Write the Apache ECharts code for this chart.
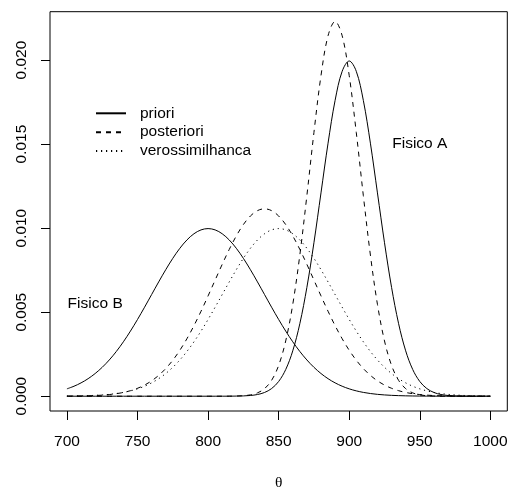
<!DOCTYPE html>
<html>
<head>
<meta charset="utf-8">
<script src="https://cdn.jsdelivr.net/npm/echarts@6/dist/echarts.min.js"></script>
<style>html,body{margin:0;padding:0;background:#fff}#c{width:509px;height:491px}</style>
</head>
<body>
<div id="c"></div>
<script>
var theta = [700,705,710,715,720,725,730,735,740,745,
  750,755,760,765,770,775,780,785,790,795,
  800,805,810,815,820,825,830,835,840,845,
  850,855,860,865,870,875,880,885,890,895,
  900,905,910,915,920,925,930,935,940,945,
  950,955,960,965,970,975,980,985,990,995,
  1000];

var prioriA = [0,0,0,0,0,0,0,0,0,0,
  0,0,0,0,0,0,0,0,0,0,
  0,0,0.000001,0.000002,0.000007,0.000018,0.000044,0.000101,0.000222,0.000455,
  0.000876,0.001587,0.002700,0.004314,0.006476,0.009132,0.012098,0.015057,0.017603,0.019333,
  0.019947,0.019333,0.017603,0.015057,0.012098,0.009132,0.006476,0.004314,0.002700,0.001587,
  0.000876,0.000455,0.000222,0.000101,0.000044,0.000018,0.000007,0.000002,0.000001,0,
  0];

var prioriB = [0.000438,0.000594,0.000794,0.001043,0.001350,0.001720,0.002157,0.002663,0.003238,0.003875,
  0.004566,0.005297,0.006049,0.006801,0.007528,0.008204,0.008802,0.009296,0.009667,0.009896,
  0.009974,0.009896,0.009667,0.009296,0.008802,0.008204,0.007528,0.006801,0.006049,0.005297,
  0.004566,0.003875,0.003238,0.002663,0.002157,0.001720,0.001350,0.001043,0.000794,0.000594,
  0.000438,0.000318,0.000227,0.000160,0.000111,0.000076,0.000051,0.000034,0.000022,0.000014,
  0.000009,0.000006,0.000003,0.000002,0.000001,0,0,0,0,0,
  0];

var verossimilhanca = [0.000009,0.000014,0.000022,0.000034,0.000051,0.000076,0.000111,0.000160,0.000227,0.000318,
  0.000438,0.000594,0.000794,0.001043,0.001350,0.001720,0.002157,0.002663,0.003238,0.003875,
  0.004566,0.005297,0.006049,0.006801,0.007528,0.008204,0.008802,0.009296,0.009667,0.009896,
  0.009974,0.009896,0.009667,0.009296,0.008802,0.008204,0.007528,0.006801,0.006049,0.005297,
  0.004566,0.003875,0.003238,0.002663,0.002157,0.001720,0.001350,0.001043,0.000794,0.000594,
  0.000438,0.000318,0.000227,0.000160,0.000111,0.000076,0.000051,0.000034,0.000022,0.000014,
  0.000009];

var posterioriA = [0,0,0,0,0,0,0,0,0,0,
  0,0,0,0,0,0,0,0,0,0,
  0,0,0.000001,0.000003,0.000011,0.000030,0.000080,0.000198,0.000449,0.000942,
  0.001831,0.003289,0.005465,0.008399,0.011937,0.015691,0.019076,0.021448,0.022302,0.021448,
  0.019076,0.015691,0.011937,0.008399,0.005465,0.003289,0.001831,0.000942,0.000449,0.000198,
  0.000080,0.000030,0.000011,0.000003,0.000001,0,0,0,0,0,
  0];

var posterioriB = [0.000005,0.000009,0.000015,0.000025,0.000040,0.000064,0.000099,0.000150,0.000224,0.000328,
  0.000471,0.000663,0.000915,0.001239,0.001645,0.002141,0.002733,0.003421,0.004200,0.005056,
  0.005969,0.006910,0.007846,0.008735,0.009538,0.010213,0.010724,0.011043,0.011151,0.011043,
  0.010724,0.010213,0.009538,0.008735,0.007846,0.006910,0.005969,0.005056,0.004200,0.003421,
  0.002733,0.002141,0.001645,0.001239,0.000915,0.000663,0.000471,0.000328,0.000224,0.000150,
  0.000099,0.000064,0.000040,0.000025,0.000015,0.000009,0.000005,0.000003,0.000002,0.000001,
  0];

var xTicks = [700,750,800,850,900,950,1000];
var xTickLabels = ['700','750','800','850','900','950','1000'];
var yTicks = [0,0.005,0.010,0.015,0.020];
var yTickLabels = ['0.000','0.005','0.010','0.015','0.020'];
var legendNames = ['priori','posteriori','verossimilhanca'];
var annotText = ['Fisico A','Fisico B'];
var annotX = [950,720];
var annotY = [0.015,0.0055];

var FONT = '"Liberation Sans", Arial, Helvetica, sans-serif';
var FS = 15.5;

function pairs(xs, ys){ return xs.map(function(x,i){ return [x, ys[i]]; }); }
function lookup(ticks, labels, v){
  for (var i=0;i<ticks.length;i++){ if (Math.abs(ticks[i]-v) < 1e-9) return labels[i]; }
  return '';
}

function lineSeries(name, ys, type){
  return {
    type:'line', name:name, data:pairs(theta, ys),
    symbol:'none', showSymbol:false, smooth:0.35, silent:true,
    lineStyle:{color:'#000', width:1, type:type},
    itemStyle:{color:'#000'}
  };
}
var DASH = [5,5];
var DOT = [1.2,3.8];

var chart = echarts.init(document.getElementById('c'), null, {renderer:'canvas'});
chart.setOption({
  animation:false,
  backgroundColor:'#fff',
  textStyle:{fontFamily:FONT},
  grid:{left:50, right:1.7, top:11.7, bottom:80, show:true, borderColor:'#000', borderWidth:1,
    backgroundColor:'transparent', containLabel:false, outerBoundsMode:'none'},
  xAxis:{
    type:'value', min:688, max:1012,
    axisLine:{show:false, onZero:false},
    splitLine:{show:false},
    axisTick:{show:true, length:9, lineStyle:{color:'#000', width:1}, customValues:xTicks},
    axisLabel:{customValues:xTicks, fontSize:FS, color:'#000', fontFamily:FONT, margin:22.5,
      formatter:function(v){ return lookup(xTicks, xTickLabels, v); }},
    name:'θ', nameLocation:'middle', nameGap:64,
    nameTextStyle:{fontSize:FS, color:'#000', fontFamily:'"Liberation Serif", "DejaVu Serif", serif'}
  },
  yAxis:{
    type:'value', min:-0.00088, max:0.02288,
    axisLine:{show:false, onZero:false},
    splitLine:{show:false},
    axisTick:{show:true, length:9, lineStyle:{color:'#000', width:1}, customValues:yTicks},
    axisLabel:{customValues:yTicks, rotate:90, fontSize:FS, color:'#000', fontFamily:FONT, margin:20,
      formatter:function(v){ return lookup(yTicks, yTickLabels, v); }}
  },
  legend:{
    show:true, data:legendNames, orient:'vertical', left:95, top:105.3,
    itemWidth:30, itemHeight:14, itemGap:2.9, padding:0,
    itemStyle:{color:'transparent', borderColor:'transparent', borderWidth:0, opacity:0},
    textStyle:{fontSize:FS, color:'#000', fontFamily:FONT, lineHeight:14, padding:[0,0,0,9]},
    selectedMode:false
  },
  series:[
    lineSeries('priori', prioriA, 'solid'),
    lineSeries('posteriori', posterioriA, DASH),
    lineSeries('verossimilhanca', verossimilhanca, DOT),
    lineSeries('priori', prioriB, 'solid'),
    lineSeries('posteriori', posterioriB, DASH),
    {
      type:'scatter', name:'anot', symbolSize:0, silent:true,
      itemStyle:{opacity:1, color:'#000'},
      data:annotText.map(function(t,i){ return {value:[annotX[i], annotY[i]], name:t}; }),
      label:{show:true, position:'inside', formatter:function(p){return p.name;}, fontSize:FS, color:'#000', fontFamily:FONT, opacity:1}
    }
  ]
});
</script>
</body>
</html>
